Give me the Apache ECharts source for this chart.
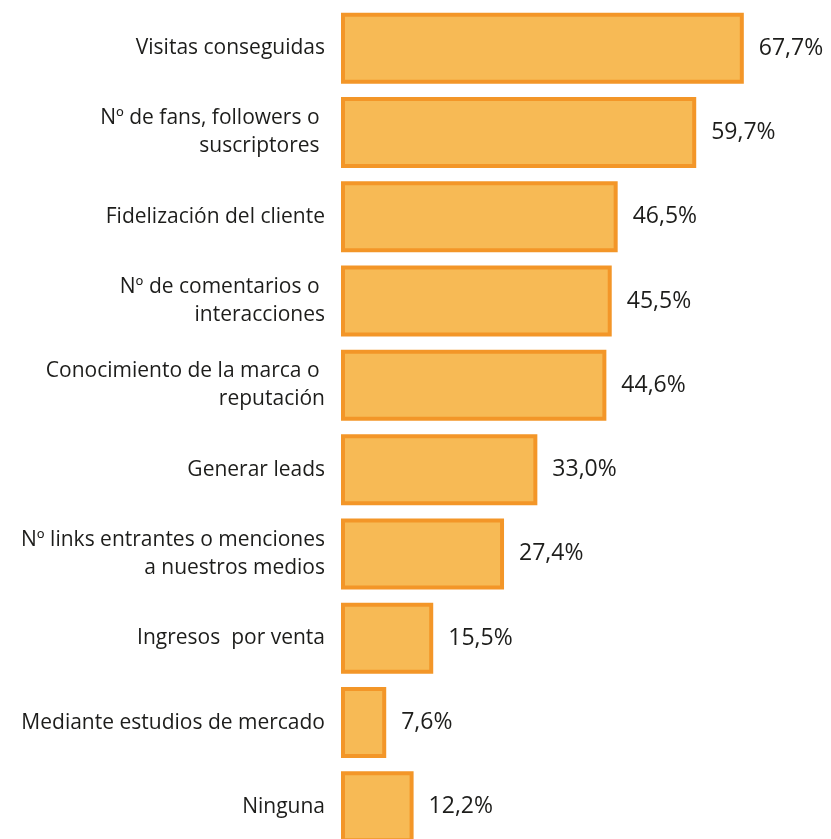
<!DOCTYPE html>
<html>
<head>
<meta charset="utf-8">
<script src="https://cdn.jsdelivr.net/npm/echarts@6/dist/echarts.min.js"></script>
<style>
  html, body { margin: 0; padding: 0; background: #fff; }
  #chart { width: 831px; height: 839px; }
</style>
</head>
<body>
<div id="chart"></div>
<script>
// categories, top to bottom
const categories = [
    "Visitas conseguidas",
    "Nº de fans, followers o \nsuscriptores ",
    "Fidelización del cliente",
    "Nº de comentarios o \ninteracciones",
    "Conocimiento de la marca o \nreputación",
    "Generar leads",
    "Nº links entrantes o menciones\na nuestros medios",
    "Ingresos  por venta",
    "Mediante estudios de mercado",
    "Ninguna"
];
const values = [67.7, 59.7, 46.5, 45.5, 44.6, 33.0, 27.4, 15.5, 7.6, 12.2];

const textColor = "#1d1d1b";
const fontFamily = "'Open Sans', 'Noto Sans', sans-serif";

let chart = echarts.init(document.getElementById("chart"), null, {renderer: "canvas"});

chart.setOption({
    animation: false,
    grid: {left: 341, top: 6, width: 476, height: 843, outerBoundsMode: "none"},
    xAxis: {
        type: "value",
        min: 0,
        max: 80,
        show: false
    },
    yAxis: {
        type: "category",
        data: categories,
        inverse: true,
        axisLine: {show: false},
        axisTick: {show: false},
        splitLine: {show: false},
        axisLabel: {
            margin: 16,
            fontSize: 21,
            lineHeight: 28,
            color: textColor,
            fontFamily: fontFamily,
            align: "right"
        }
    },
    series: [{
        type: "bar",
        data: values,
        barWidth: 71,
        itemStyle: {
            color: "#F7BA55",
            borderColor: "#F39628",
            borderWidth: 4
        },
        label: {
            show: true,
            position: "right",
            distance: 15,
            fontSize: 23,
            color: textColor,
            fontFamily: fontFamily,
            formatter: p => p.value.toFixed(1).replace(".", ",") + "%"
        }
    }]
});
</script>
</body>
</html>
